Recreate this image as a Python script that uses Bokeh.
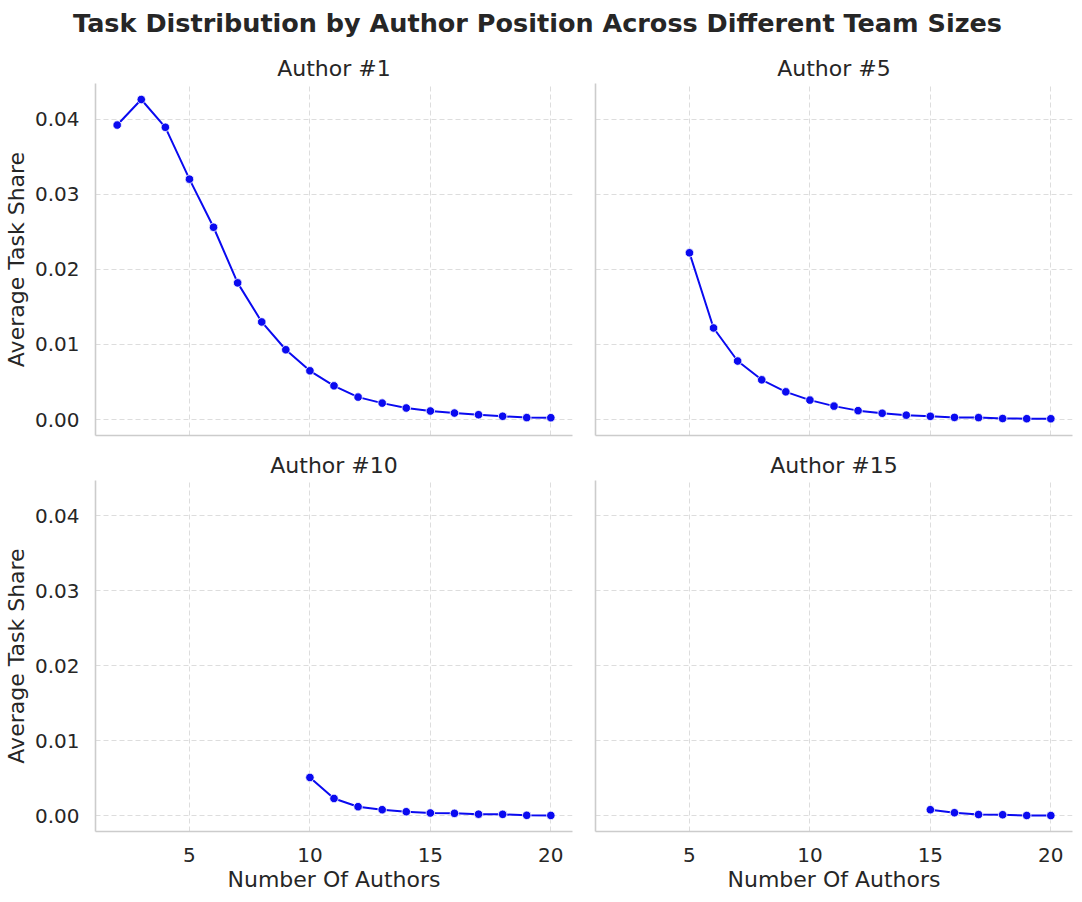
from bokeh.plotting import figure
from bokeh.layouts import column, row
from bokeh.models import FixedTicker, PrintfTickFormatter, Range1d
from bokeh.embed import file_html
from bokeh.resources import INLINE
from bokeh.core.properties import value

main_title = "Task Distribution by Author Position Across Different Team Sizes"
panel_titles = ["Author #1", "Author #5", "Author #10", "Author #15"]
x_label = "Number Of Authors"
y_label = "Average Task Share"

x_author1 = list(range(2, 21))
y_author1 = [0.0392, 0.0426, 0.0389, 0.0320, 0.0256, 0.0182, 0.0130, 0.0093, 0.0065, 0.0045,
             0.0030, 0.0022, 0.00155, 0.00115, 0.00088, 0.00066, 0.00045, 0.00027, 0.00026]
x_author5 = list(range(5, 21))
y_author5 = [0.0222, 0.0122, 0.0078, 0.0053, 0.0037, 0.0026, 0.0018, 0.0012, 0.00085, 0.0006,
             0.00044, 0.0003, 0.00027, 0.00015, 0.00013, 0.00012]
x_author10 = list(range(10, 21))
y_author10 = [0.0051, 0.0023, 0.0012, 0.0008, 0.00053, 0.00036, 0.00031, 0.0002, 0.00018, 0.00005, 0.00004]
x_author15 = list(range(15, 21))
y_author15 = [0.0008, 0.0004, 0.00015, 0.00013, 0.00003, 0.00002]

x_ticks = [5, 10, 15, 20]
y_ticks = [0.0, 0.01, 0.02, 0.03, 0.04]

FONT = "DejaVu Sans"
TXT = "#262626"
SPINE = "#cccccc"
GRID = "#dddddd"
LINE = "#0a0af0"

xs_all = x_author1 + x_author5 + x_author10 + x_author15
ys_all = y_author1 + y_author5 + y_author10 + y_author15
xpad = 0.05 * (max(xs_all) - min(xs_all))
ypad = 0.05 * (max(ys_all) - min(ys_all))
x_lo, x_hi = min(xs_all) - xpad, max(xs_all) + xpad
y_lo, y_hi = min(ys_all) - ypad, max(ys_all) + ypad

# title strip
tfig = figure(width=1074, height=44, x_range=(0, 1), y_range=(0, 1), min_border=0,
              toolbar_location=None, output_backend="svg", outline_line_color=None)
tfig.axis.visible = False
tfig.grid.visible = False
tfig.text(x=[0.5], y=[0.5], text=[main_title], text_align="center", text_baseline="middle",
          text_font=value(FONT), text_font_style="bold", text_font_size="25.5px", text_color=TXT)


def make_panel(xv, yv, title, left, bottom):
    w = 583 if left else 491
    h = 400 if not bottom else 450
    p = figure(width=w, height=h, toolbar_location=None, output_backend="svg",
               x_range=Range1d(x_lo, x_hi), y_range=Range1d(y_lo, y_hi),
               min_border_left=95 if left else 12, min_border_right=11 if left else 2,
               min_border_top=39 if not bottom else 36, min_border_bottom=9 if not bottom else 62,
               outline_line_color=None, background_fill_color="white", border_fill_color="white")
    p.title.text = title
    p.title.align = "center"
    p.title.text_font = FONT
    p.title.text_font_style = "normal"
    p.title.text_font_size = "22px"
    p.title.text_color = TXT
    p.title.standoff = 5
    for ax in (p.xaxis[0], p.yaxis[0]):
        ax.axis_line_color = SPINE
        ax.axis_line_width = 1.6
        ax.major_tick_line_color = None
        ax.minor_tick_line_color = None
        ax.major_label_text_font = FONT
        ax.major_label_text_font_size = "20px"
        ax.major_label_text_color = TXT
        ax.axis_label_text_font = FONT
        ax.axis_label_text_font_size = "22px"
        ax.axis_label_text_color = TXT
        ax.axis_label_text_font_style = "normal"
    p.xgrid.ticker = FixedTicker(ticks=x_ticks)
    p.ygrid.ticker = FixedTicker(ticks=y_ticks)
    p.yaxis.formatter = PrintfTickFormatter(format="%.2f")
    p.xaxis.major_label_standoff = 10
    p.yaxis.major_label_standoff = 10
    if bottom:
        p.xaxis.ticker = FixedTicker(ticks=x_ticks)
        p.xaxis.axis_label = x_label
        p.xaxis.axis_label_standoff = 2
    else:
        p.xaxis.ticker = FixedTicker(ticks=[])
        p.xaxis.major_label_standoff = 0
    if left:
        p.yaxis.ticker = FixedTicker(ticks=y_ticks)
        p.yaxis.axis_label = y_label
        p.yaxis.axis_label_standoff = 3
    else:
        p.yaxis.ticker = FixedTicker(ticks=[])
        p.yaxis.major_label_standoff = 0
    for g in (p.xgrid[0], p.ygrid[0]):
        g.grid_line_color = GRID
        g.grid_line_dash = "5 3"
        g.grid_line_width = 1
    p.line(xv, yv, line_color=LINE, line_width=2)
    p.scatter(xv, yv, size=8.5, fill_color=LINE, line_color="white", line_width=0.8)
    return p


tl = make_panel(x_author1, y_author1, panel_titles[0], True, False)
tr = make_panel(x_author5, y_author5, panel_titles[1], False, False)
bl = make_panel(x_author10, y_author10, panel_titles[2], True, True)
br = make_panel(x_author15, y_author15, panel_titles[3], False, True)

layout = column(tfig, row(tl, tr), row(bl, br))
open("out.html", "w").write(file_html(layout, INLINE))
